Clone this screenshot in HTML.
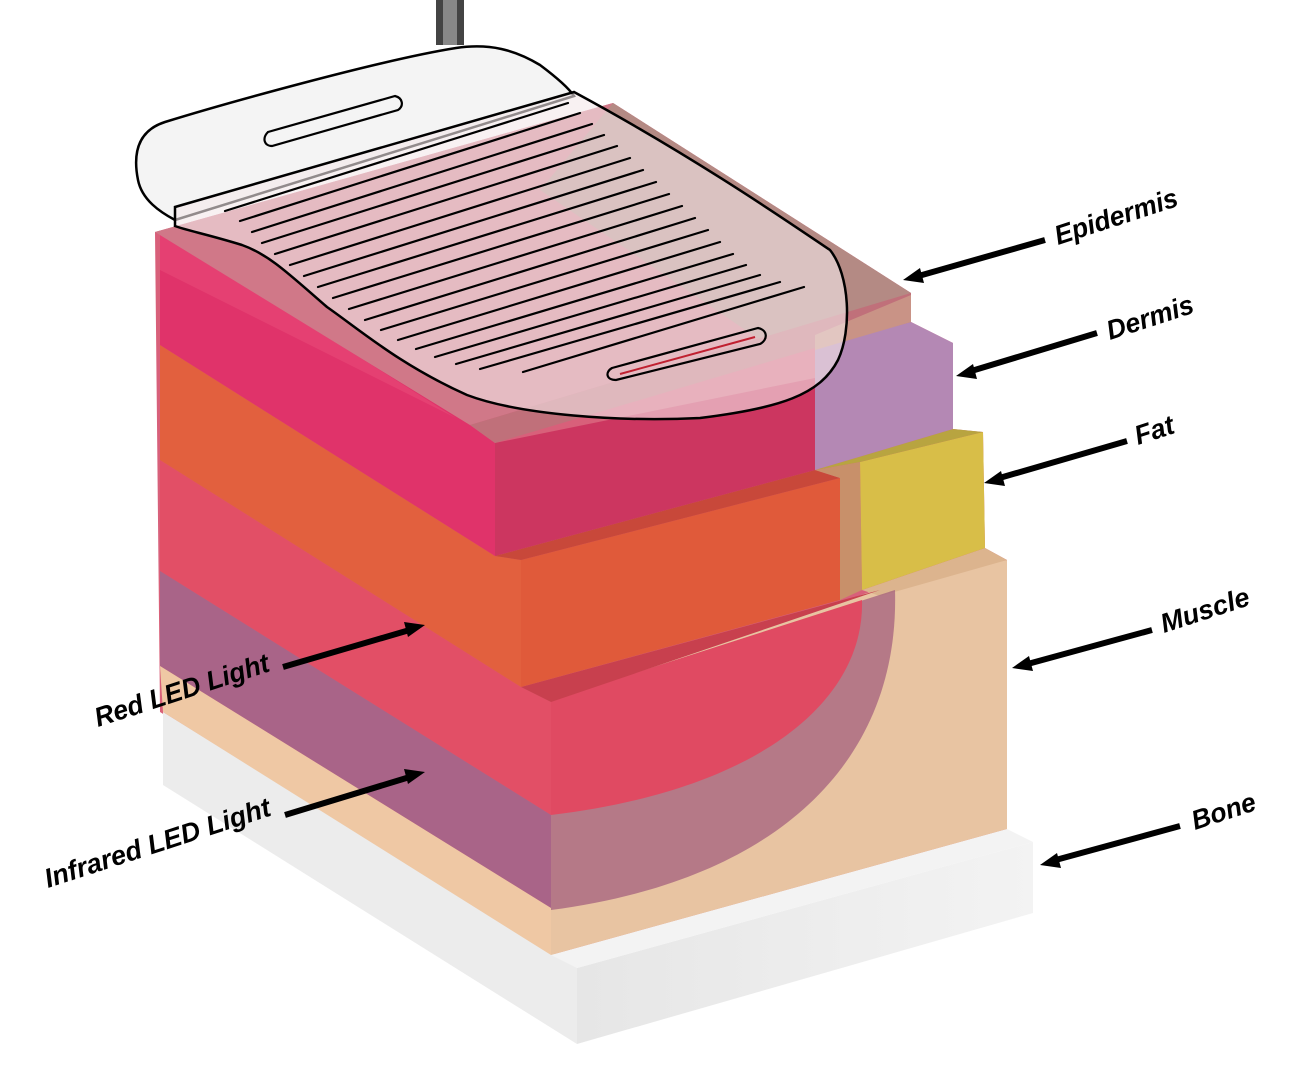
<!DOCTYPE html>
<html><head><meta charset="utf-8"><style>
html,body{margin:0;padding:0;background:#fff;}
svg{display:block;}
text{font-family:"Liberation Sans","DejaVu Sans",sans-serif;font-size:27px;fill:#000;font-style:italic;font-weight:bold;}
</style></head><body>
<svg width="1292" height="1080" viewBox="0 0 1292 1080" xmlns="http://www.w3.org/2000/svg">
<defs>
<linearGradient id="bone" x1="0" y1="0" x2="1" y2="0"><stop offset="0" stop-color="#e6e6e6"/><stop offset="1" stop-color="#f3f3f3"/></linearGradient>
<clipPath id="mr"><polygon points="551,700 870,592 1007,560 1007,829 551,955"/></clipPath>
</defs>
<!-- background silhouette -->
<polygon points="155,232 613,103 911,293 911,322 953,343 953,429 983,432 985,548 1007,560 1007,829 551,955 160,712" fill="#d8607a"/>
<!-- bone -->
<polygon points="163,712 577,968 577,1044 163,785" fill="#ececec"/>
<polygon points="577,968 1033,842 1033,913 577,1044" fill="url(#bone)"/>
<polygon points="163,712 551,955 577,968 1033,842 1007,829 551,955" fill="#f3f3f3"/>
<!-- muscle right face -->
<polygon points="551,700 870,592 1007,560 1007,829 551,955" fill="#e8c4a2"/>
<polygon points="862,590 985,548 1007,560 880,596" fill="#dcb48e"/>
<g clip-path="url(#mr)">
<path d="M551,700 L895,590 C900,760 780,880 551,910 Z" fill="#a4607e" opacity="0.75"/>
<path d="M551,700 L862,600 C865,700 760,790 551,815 Z" fill="#e04a62"/>
</g>
<!-- muscle left face -->
<polygon points="160,460 521,687 551,702 551,815 160,571" fill="#e24f66"/>
<polygon points="160,571 551,815 551,908 160,666" fill="#a96488"/>
<polygon points="160,666 551,908 551,955 163,712" fill="#efc8a4"/>
<polygon points="521,687 850,598 880,590 551,702" fill="#c8404e"/>
<!-- fat -->
<polygon points="160,345 495,556 521,560 521,687 160,460" fill="#e2603e"/>
<polygon points="521,560 840,478 840,600 521,687" fill="#e05a3a"/>
<polygon points="495,556 815,470 840,478 521,560" fill="#c8483a"/>
<polygon points="815,470 860,462 862,590 840,600 840,478" fill="#c8906a"/>
<polygon points="860,462 983,432 985,548 862,590" fill="#d8be48"/>
<polygon points="815,470 953,429 983,432 860,462" fill="#b8a440"/>
<!-- dermis -->
<polygon points="160,232 470,425 495,443 495,556 160,345" fill="#e0336a"/>
<polygon points="160,232 456,418 470,425 160,270" fill="#e84a78" opacity="0.6"/>
<polygon points="495,443 815,378 815,470 495,556" fill="#cc3660"/>
<polygon points="815,335 911,322 953,343 953,429 815,470" fill="#b488b4"/>
<!-- epidermis top -->
<polygon points="155,232 613,103 911,293 470,425" fill="#d07888"/>
<polygon points="613,103 911,293 760,340 540,190" fill="#b48a84"/>
<polygon points="470,425 911,293 911,322 815,348 495,443" fill="#c0707a"/>
<polygon points="815,335 911,295 911,322 815,350" fill="#c99386"/>
<!-- cable -->
<rect x="436" y="0" width="28" height="45" fill="#444"/>
<rect x="443" y="0" width="14" height="45" fill="#888"/>
<!-- device back -->
<path d="M138,180 C132,150 140,130 165,122 C220,105 380,60 456,48 C490,43 515,50 540,65 C560,80 570,90 574,96 L175,220 C160,212 142,200 138,180 Z" fill="#f4f4f4" stroke="#000" stroke-width="2.5"/>
<!-- device pad -->
<path d="M175,207 L574,92 C700,160 800,230 830,250 C850,275 852,330 838,360 C820,395 780,408 700,418 C620,422 520,415 467,395 C400,365 360,330 327,307 C290,275 270,255 242,245 C210,235 185,230 175,226 Z" fill="#f4e8ea" fill-opacity="0.6" stroke="#000" stroke-width="2.5"/>
<g stroke="#000" stroke-width="2.2" fill="none" stroke-linecap="round">
<path d="M225,211 L568,103"/><path d="M240,221 L580,113"/><path d="M252,232 L592,124"/><path d="M262,243 L604,135"/>
<path d="M275,254 L617,146"/><path d="M290,265 L630,158"/><path d="M304,276 L643,170"/><path d="M318,287 L656,182"/>
<path d="M333,298 L669,194"/><path d="M349,309 L682,206"/><path d="M365,320 L695,218"/><path d="M381,330 L708,230"/>
<path d="M398,340 L720,242"/><path d="M416,349 L733,254"/><path d="M435,357 L746,265"/><path d="M456,364 L760,275"/>
<path d="M480,369 L780,282"/><path d="M523,372 L804,287"/>
</g>
<path d="M268,132 L395,96 C403,98 404,106 398,110 L272,146 C264,146 262,138 268,132 Z" fill="none" stroke="#000" stroke-width="2.2"/>
<path d="M612,368 L758,328 C768,330 768,340 760,344 L616,380 C606,380 605,372 612,368 Z" fill="none" stroke="#000" stroke-width="2.2"/>
<line x1="620" y1="374" x2="755" y2="337" stroke="#c02030" stroke-width="2"/>
<!-- arrows -->
<g stroke="#000" stroke-width="6" fill="#000">
<line x1="1045" y1="240" x2="915" y2="277"/><polygon points="903,280 920,268 924,283" stroke="none"/>
<line x1="1097" y1="333" x2="968" y2="372"/><polygon points="956,376 973,364 977,379" stroke="none"/>
<line x1="1127" y1="441" x2="996" y2="479"/><polygon points="984,483 1001,471 1005,486" stroke="none"/>
<line x1="1152" y1="630" x2="1024" y2="665"/><polygon points="1012,668 1029,656 1033,671" stroke="none"/>
<line x1="1180" y1="826" x2="1052" y2="861"/><polygon points="1040,865 1057,853 1061,868" stroke="none"/>
<line x1="283" y1="667" x2="413" y2="629"/><polygon points="425,625 408,637 404,622" stroke="none"/>
<line x1="285" y1="815" x2="413" y2="776"/><polygon points="425,772 408,784 404,769" stroke="none"/>
</g>
<!-- labels -->
<text transform="translate(1058,245) rotate(-18)" textLength="128" lengthAdjust="spacingAndGlyphs">Epidermis</text>
<text transform="translate(1110,340) rotate(-18)" textLength="90" lengthAdjust="spacingAndGlyphs">Dermis</text>
<text transform="translate(1138,445) rotate(-18)" textLength="40" lengthAdjust="spacingAndGlyphs">Fat</text>
<text transform="translate(1164,633) rotate(-18)" textLength="92" lengthAdjust="spacingAndGlyphs">Muscle</text>
<text transform="translate(1195,830) rotate(-18)" textLength="66" lengthAdjust="spacingAndGlyphs">Bone</text>
<text transform="translate(98,727) rotate(-18)" textLength="182" lengthAdjust="spacingAndGlyphs">Red LED Light</text>
<text transform="translate(48,888) rotate(-18)" textLength="236" lengthAdjust="spacingAndGlyphs">Infrared LED Light</text>
</svg>
</body></html>
